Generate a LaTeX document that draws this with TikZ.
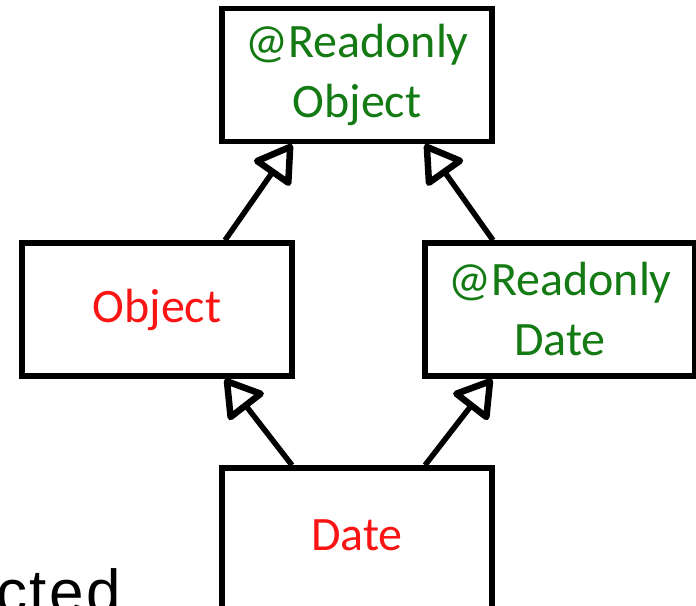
\documentclass[tikz,border=0pt]{standalone}
\usepackage{fontspec}
\setmainfont{Carlito}
\newfontfamily\fragfont[LetterSpace=4]{Liberation Sans}
\usetikzlibrary{arrows.meta,calc}
\definecolor{rdgreen}{RGB}{20,122,20}
\definecolor{objred}{RGB}{250,20,20}
\tikzset{
  typebox/.style={draw=black, line width=5.5pt, fill=white, minimum width=270pt, minimum height=133pt, inner sep=0pt, align=center, font=\fontsize{48}{60}\selectfont},
  inh/.style={line width=5.5pt, -{Triangle[open, length=40pt, width=48pt, line width=6.5pt, fill=white, round]}},
  greentext/.style={text=rdgreen},
  redtext/.style={text=objred}
}
\begin{document}
\begin{tikzpicture}[x=1pt,y=-1pt]
\useasboundingbox (0,0) rectangle (696,605);
\clip (0,0) rectangle (696,605);
\node[typebox, greentext] (top) at (357,75) {@Readonly\\Object};
\node[typebox, redtext] (obj) at (157,309.5) {Object};
\node[typebox, greentext] (rdate) at (560,309.5) {@Readonly\\Date};
\node[typebox, minimum height=150pt] (datebox) at (357,543) {};
\node[redtext, font=\fontsize{48}{57}\selectfont, inner sep=0pt] (date) at (357,535) {Date};
\node[anchor=base east, inner sep=0pt, font=\fragfont\fontsize{62}{66}\selectfont] (frag) at (121,613) {cted};
\draw[inh] (obj.north -| 225,0) -- (top.south -| 292,0);
\draw[inh] (rdate.north -| 493,0) -- (top.south -| 425,0);
\draw[inh] (datebox.north -| 292,0) -- (obj.south -| 225,0);
\draw[inh] (datebox.north -| 425,0) -- (rdate.south -| 492,0);
\end{tikzpicture}
\end{document}
